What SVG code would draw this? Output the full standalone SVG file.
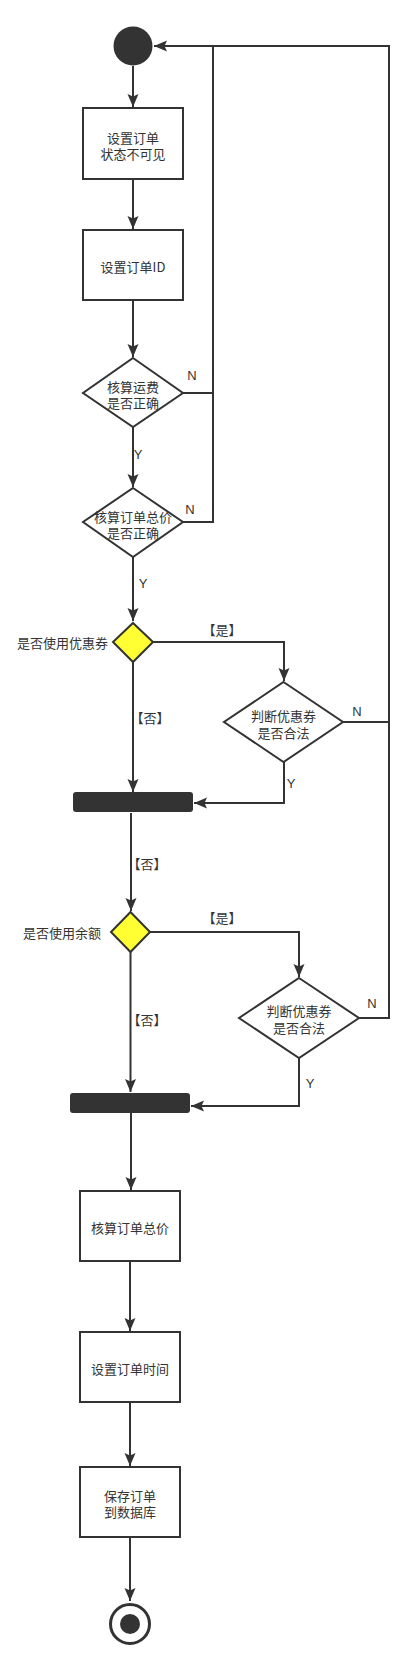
<svg xmlns="http://www.w3.org/2000/svg" width="420" height="1668" viewBox="0 0 420 1668">
<style>
.box{fill:#fff;stroke:#333;stroke-width:2}
.dia{fill:#fff;stroke:#333;stroke-width:2}
.ydia{fill:#ffff33;stroke:#333;stroke-width:2}
.bar{fill:#333;stroke:none}
.line{fill:none;stroke:#333;stroke-width:2}
.arr{fill:none;stroke:#333;stroke-width:2;marker-end:url(#ah)}
text{font-family:"Noto Sans CJK SC","Liberation Sans",sans-serif;font-size:13px;fill:#333;text-anchor:middle;dominant-baseline:central}
.lbl{font-family:"Liberation Sans","Noto Sans CJK SC",sans-serif}
</style>
<defs>
<marker id="ah" markerUnits="userSpaceOnUse" markerWidth="14" markerHeight="12" refX="13" refY="5.5" orient="auto">
<path d="M0,0 L13,5.5 L0,11 L2.5,5.5 z" fill="#333"/>
</marker>
</defs>
<g id="connectors">
<path class="arr" d="M133,66 V107"/>
<path class="arr" d="M133,179 V229"/>
<path class="arr" d="M133,300 V357"/>
<path class="arr" d="M133,427 V487"/>
<path class="line" d="M183,393 H213"/>
<path class="arr" d="M183,522 H213 V46 H154"/>
<path class="line" d="M343,722 H389 V46 H213"/>
<path class="line" d="M359,1018 H389 V722"/>
<path class="arr" d="M133,557 V621"/>
<path class="arr" d="M153,642 H284 V681"/>
<path class="arr" d="M133,662 V792"/>
<path class="arr" d="M284,762 V803 H194"/>
<path class="arr" d="M131,813 V911"/>
<path class="arr" d="M150,932 H299 V977"/>
<path class="arr" d="M130.5,952 V1092"/>
<path class="arr" d="M299,1058 V1106 H191"/>
<path class="arr" d="M131,1113 V1190"/>
<path class="arr" d="M130,1261 V1331"/>
<path class="arr" d="M130,1402 V1466"/>
<path class="arr" d="M130,1537 V1601"/>
<text class="lbl" x="192" y="375">N</text>
<text class="lbl" x="138" y="454">Y</text>
<text class="lbl" x="190" y="509">N</text>
<text class="lbl" x="143" y="583">Y</text>
<text x="222" y="629">【是】</text>
<text x="150" y="717">【否】</text>
<text class="lbl" x="357" y="711">N</text>
<text class="lbl" x="291" y="783">Y</text>
<text x="147" y="863">【否】</text>
<text x="222" y="917">【是】</text>
<text x="147" y="1019">【否】</text>
<text class="lbl" x="372" y="1003">N</text>
<text class="lbl" x="310" y="1083">Y</text>
</g>
<g id="start"><circle cx="133" cy="46" r="19.5" fill="#333"/></g>
<g id="box1"><rect class="box" x="83" y="108" width="100" height="71"/><text x="133" y="137">设置订单</text><text x="133" y="153">状态不可见</text></g>
<g id="box2"><rect class="box" x="83" y="230" width="100" height="70"/><text x="133" y="266">设置订单ID</text></g>
<g id="dec1"><polygon class="dia" points="133,358 183,393 133,427 83,393"/><text x="133" y="386">核算运费</text><text x="133" y="402">是否正确</text></g>
<g id="dec2"><polygon class="dia" points="133,488 183,522 133,557 83,522"/><text x="133" y="516">核算订单总价</text><text x="133" y="532">是否正确</text></g>
<g id="ydec1"><polygon class="ydia" points="133,623 153,642 133,662 113,642"/><text x="108" y="642" style="text-anchor:end">是否使用优惠券</text></g>
<g id="dec3"><polygon class="dia" points="283.5,682 343,722 283.5,762 224,722"/><text x="283.5" y="715">判断优惠券</text><text x="283.5" y="732">是否合法</text></g>
<g id="bar1"><rect class="bar" x="73" y="792" width="120" height="20" rx="3"/></g>
<g id="ydec2"><polygon class="ydia" points="130.5,912 150,932 130.5,952 111,932"/><text x="101" y="932" style="text-anchor:end">是否使用余额</text></g>
<g id="dec4"><polygon class="dia" points="299,978 359,1018 299,1058 239,1018"/><text x="299" y="1010">判断优惠券</text><text x="299" y="1027">是否合法</text></g>
<g id="bar2"><rect class="bar" x="70" y="1093" width="120" height="20" rx="3"/></g>
<g id="box3"><rect class="box" x="80" y="1191" width="100" height="70"/><text x="130" y="1227">核算订单总价</text></g>
<g id="box4"><rect class="box" x="80" y="1332" width="100" height="70"/><text x="130" y="1368">设置订单时间</text></g>
<g id="box5"><rect class="box" x="80" y="1467" width="100" height="70"/><text x="130" y="1495">保存订单</text><text x="130" y="1511">到数据库</text></g>
<g id="end"><circle cx="130" cy="1624" r="19.5" fill="#fff" stroke="#333" stroke-width="3"/><circle cx="130" cy="1624" r="10" fill="#333"/></g>
</svg>
